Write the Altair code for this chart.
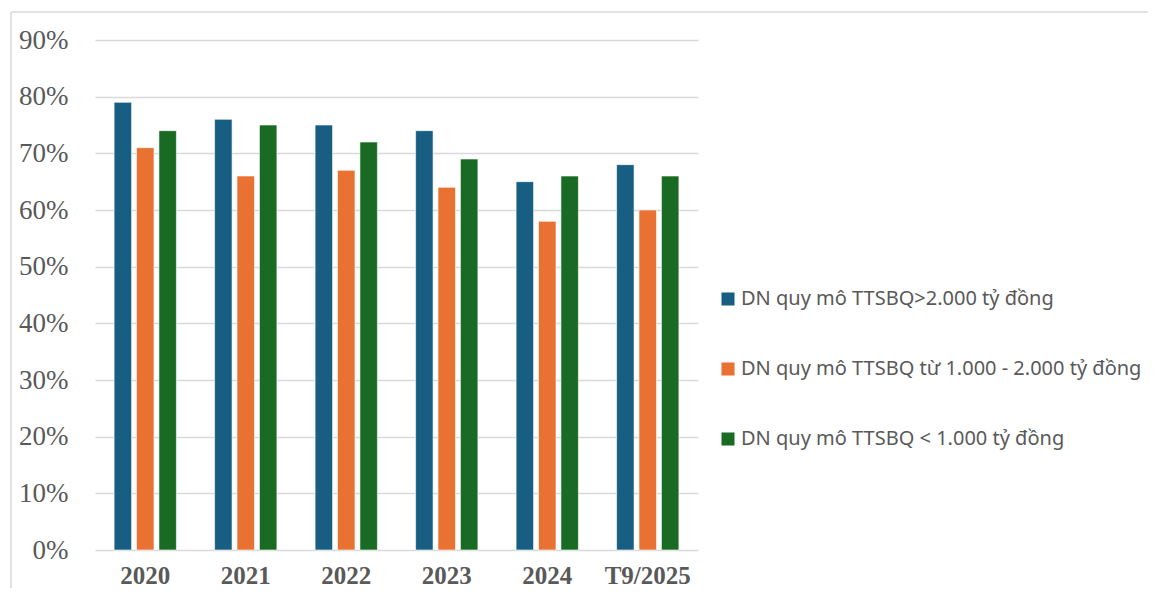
import altair as alt
import pandas as pd

years = ["2020", "2021", "2022", "2023", "2024", "T9/2025"]
series = [
    "DN quy mô TTSBQ>2.000 tỷ đồng",
    "DN quy mô TTSBQ từ 1.000 - 2.000 tỷ đồng",
    "DN quy mô TTSBQ < 1.000 tỷ đồng",
]
large = [0.79, 0.76, 0.75, 0.74, 0.65, 0.68]
medium = [0.71, 0.66, 0.67, 0.64, 0.58, 0.60]
small = [0.74, 0.75, 0.72, 0.69, 0.66, 0.66]
colors = ["#175E82", "#E97132", "#196B24"]

rows = []
for s, vals in zip(series, [large, medium, small]):
    for y, v in zip(years, vals):
        rows.append({"year": y, "series": s, "value": v})
df = pd.DataFrame(rows)

W, H = 603, 510

bars = alt.Chart(df).mark_bar(stroke="white", strokeWidth=0.6).encode(
    x=alt.X("year:N", sort=years, title=None,
            scale=alt.Scale(paddingInner=0.38, paddingOuter=0.19),
            axis=alt.Axis(labelAngle=0, labelFont="Liberation Serif", labelFontSize=25,
                          labelFontWeight="bold", labelColor="#595959", domain=False,
                          ticks=False, labelPadding=13, grid=False)),
    xOffset=alt.XOffset("series:N", sort=series, scale=alt.Scale(paddingInner=0.22)),
    y=alt.Y("value:Q", title=None,
            scale=alt.Scale(domain=[0, 0.9], nice=False),
            axis=alt.Axis(format=".0%", values=[i / 10 for i in range(10)],
                          labelFont="Liberation Serif", labelFontSize=27,
                          labelColor="#595959", domain=False, ticks=False,
                          labelPadding=27, gridColor="#d9d9d9", gridWidth=1.5)),
    color=alt.Color("series:N", sort=series,
                    scale=alt.Scale(domain=series, range=colors),
                    legend=alt.Legend(title=None, orient="none", legendX=623, legendY=249,
                                      symbolType="square", symbolSize=170,
                                      symbolStrokeWidth=0,
                                      labelFont="Noto Sans", labelFontSize=20,
                                      labelColor="#595959", rowPadding=50,
                                      labelLimit=600, labelOffset=3)),
)

one = pd.DataFrame({"a": [0]})
border_left = alt.Chart(one).mark_rule(color="#d9d9d9", strokeWidth=1.5, clip=False).encode(
    x=alt.value(-84), y=alt.value(-28), y2=alt.value(600)
)
border_top = alt.Chart(one).mark_rule(color="#d9d9d9", strokeWidth=1.5, clip=False).encode(
    y=alt.value(-28), x=alt.value(-84), x2=alt.value(1100)
)

chart = alt.layer(border_left, border_top, bars).properties(
    width=W, height=H,
    padding={"left": 87, "top": 32, "right": 450, "bottom": 38},
    autosize=alt.AutoSizeParams(type="none"),
    view=alt.ViewBackground(stroke="transparent", strokeWidth=0),
).configure_view(stroke="transparent", strokeWidth=0, strokeOpacity=0
).configure_axisX(grid=False).configure(
    background="white", style={"cell": {"stroke": "transparent", "strokeWidth": 0}}
)

chart.save("out.html", embed_options={"renderer": "svg", "actions": False})
